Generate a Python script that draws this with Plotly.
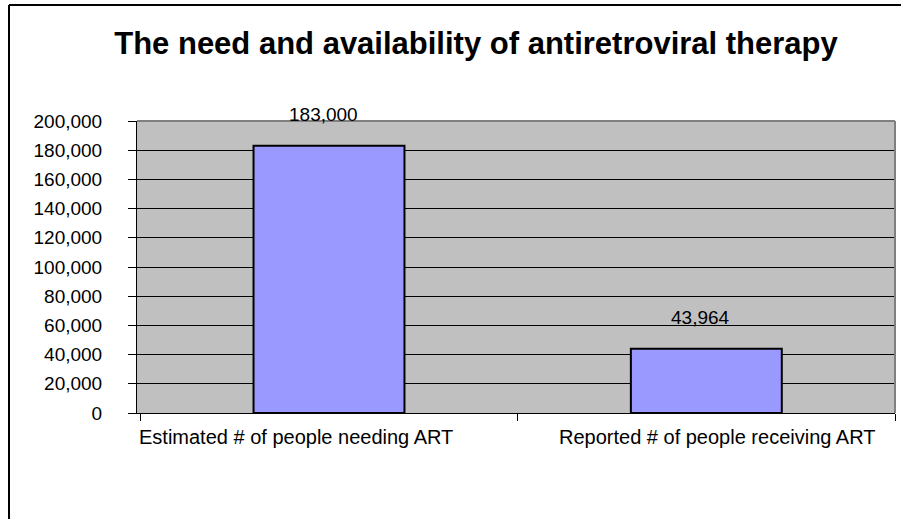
import plotly.graph_objects as go

# Chart data
categories = ["Estimated # of people needing ART", "Reported # of people receiving ART"]
values = [183000, 43964]
value_labels = ["183,000", "43,964"]
y_ticks = [0, 20000, 40000, 60000, 80000, 100000, 120000, 140000, 160000, 180000, 200000]

FONT = "Liberation Sans, Arial, sans-serif"
W, H = 901, 519
L, R, T, B = 137, 6, 121, 106
plot_w = W - L - R
plot_h = H - T - B


def px_to_paper_x(px):
    return (px - L) / plot_w


def px_to_paper_y(py):
    return (H - B - py) / plot_h


fig = go.Figure()

fig.add_trace(go.Bar(
    x=categories,
    y=values,
    width=0.4,
    marker=dict(color="#9999FF", line=dict(color="black", width=2)),
    hoverinfo="x+y",
))

# value labels above the bars
for cat, val, txt in zip(categories, values, value_labels):
    fig.add_annotation(
        x=cat, y=val, xref="x", yref="y",
        text=txt, showarrow=False,
        xanchor="center", yanchor="middle",
        xshift=-6, yshift=31,
        font=dict(family=FONT, size=19, color="black"),
    )

# category labels under the axis
for cat, dx in zip(categories, [-33, 11]):
    fig.add_annotation(
        x=cat, y=0, xref="x", yref="paper",
        text=cat, showarrow=False,
        xanchor="center", yanchor="middle",
        xshift=dx, yshift=-24,
        font=dict(family=FONT, size=20, color="black"),
    )

# grey frame on top/right of the plotting area
fig.add_shape(type="line", xref="paper", yref="paper", x0=0, x1=1, y0=1, y1=1,
              line=dict(color="#808080", width=2), layer="above")
fig.add_shape(type="line", xref="paper", yref="paper", x0=1, x1=1, y0=0, y1=1,
              line=dict(color="#808080", width=2), layer="above")

# outer chart border (left and top edges)
fig.add_shape(type="line", xref="paper", yref="paper",
              x0=px_to_paper_x(9), x1=px_to_paper_x(9),
              y0=px_to_paper_y(H + 5), y1=px_to_paper_y(5),
              line=dict(color="black", width=2), layer="above")
fig.add_shape(type="line", xref="paper", yref="paper",
              x0=px_to_paper_x(9), x1=px_to_paper_x(W + 5),
              y0=px_to_paper_y(5), y1=px_to_paper_y(5),
              line=dict(color="black", width=2), layer="above")

fig.update_layout(
    width=W, height=H,
    margin=dict(l=L, r=R, t=T, b=B, pad=0, autoexpand=False),
    paper_bgcolor="white",
    plot_bgcolor="#C0C0C0",
    showlegend=False,
    title=dict(
        text="<b>The need and availability of antiretroviral therapy</b>",
        x=476 / W, xanchor="center",
        y=1 - 43 / H, yanchor="middle",
        font=dict(family=FONT, size=31, color="black"),
        automargin=False,
    ),
    font=dict(family=FONT, size=19, color="black"),
    bargap=0.6,
)

fig.update_xaxes(
    automargin=False,
    showticklabels=False,
    ticks="outside", tickson="boundaries", ticklen=7, tickcolor="black", tickwidth=1,
    showline=True, linecolor="black", linewidth=1,
    showgrid=False, zeroline=False,
)

fig.update_yaxes(
    automargin=False,
    range=[0, 200000],
    tickvals=y_ticks,
    tickformat=",d",
    ticks="outside", ticklen=8, tickcolor="black", tickwidth=1,
    ticklabelstandoff=22,
    tickfont=dict(family=FONT, size=19, color="black"),
    showline=True, linecolor="black", linewidth=1,
    showgrid=True, gridcolor="black", gridwidth=1,
    zeroline=False,
)

fig.write_html("out.html")
